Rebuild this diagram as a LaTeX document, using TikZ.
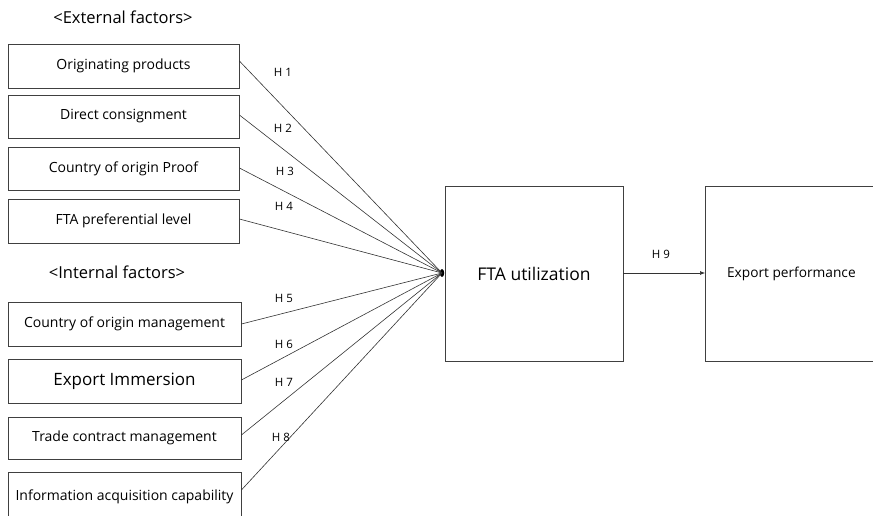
\documentclass[tikz,border=0pt]{standalone}
\usepackage{fontspec}
\setmainfont{Open Sans}
\usetikzlibrary{arrows.meta}
\begin{document}
\begin{tikzpicture}[x=1pt,y=-1pt,
  fbox/.style={draw=black!75, line width=0.8pt, inner sep=0pt, font=\fontsize{14}{16}\selectfont},
  link/.style={draw=black!80, line width=0.6pt},
  hlab/.style={font=\fontsize{11.5}{13}\selectfont, inner sep=0pt},
  head/.style={font=\fontsize{16.5}{19}\selectfont, inner sep=0pt}]
\useasboundingbox (0,0) rectangle (873,516);
\node[head] (ext) at (123,17) {<External factors>};
\node[head] (int) at (117,272) {<Internal factors>};
\node[fbox, minimum width=231pt, minimum height=44pt] (b1) at (123.5,66) {Originating products};
\node[fbox, minimum width=231pt, minimum height=43pt] (b2) at (123.5,116.5) {Direct consignment};
\node[fbox, minimum width=231pt, minimum height=43pt] (b3) at (123.5,169) {Country of origin Proof};
\node[fbox, minimum width=231pt, minimum height=44pt] (b4) at (123.5,221) {FTA preferential level};
\node[fbox, minimum width=233pt, minimum height=44pt] (b5) at (124.5,324) {Country of origin management};
\node[fbox, minimum width=233pt, minimum height=44pt, font=\fontsize{17}{19}\selectfont] (b6) at (124.5,381) {Export Immersion};
\node[fbox, minimum width=233pt, minimum height=42pt] (b7) at (124.5,438) {Trade contract management};
\node[fbox, minimum width=233pt, minimum height=48pt, anchor=north] (b8) at (124.5,472) {Information acquisition capability};
\node[fbox, minimum width=178pt, minimum height=175pt, font=\fontsize{17.5}{20}\selectfont] (fta) at (534,273.5) {FTA utilization};
\node[fbox, minimum width=172pt, minimum height=175pt, font=\fontsize{13.7}{16}\selectfont, anchor=west] (exp) at (705,273.5) {Export performance};
\coordinate (c) at (442,273);
\fill[black] (c) ellipse (2.2pt and 4pt);
\foreach \b/\yy in {b1/61,b2/115,b3/168,b4/219,b5/324,b6/380,b7/435,b8/490}{
  \draw[link] (\b.east |- 0,\yy) -- (c);
}
\draw[link, -{Latex[length=5pt,width=4pt]}] (fta.east |- c) -- (exp.west |- c);
\node[hlab] (h1) at (283,72) {H 1};
\node[hlab] (h2) at (283,128) {H 2};
\node[hlab] (h3) at (285,171) {H 3};
\node[hlab] (h4) at (284,206) {H 4};
\node[hlab] (h5) at (284,298) {H 5};
\node[hlab] (h6) at (284,344) {H 6};
\node[hlab] (h7) at (284,382) {H 7};
\node[hlab] (h8) at (281,437) {H 8};
\node[hlab] (h9) at (661,254) {H 9};
\end{tikzpicture}
\end{document}
